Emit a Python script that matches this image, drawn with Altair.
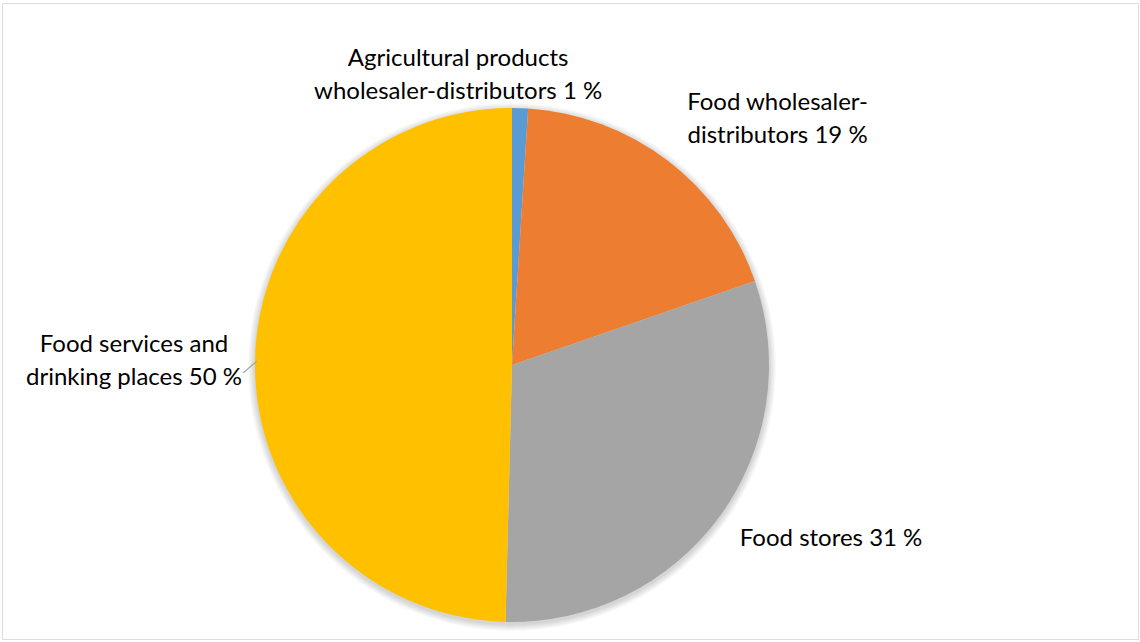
import altair as alt
import pandas as pd

categories = [
    "Agricultural products wholesaler-distributors",
    "Food wholesaler-distributors",
    "Food stores",
    "Food services and drinking places",
]
values = [1.0, 18.7, 30.7, 49.6]
labels = [
    "Agricultural products\nwholesaler-distributors 1 %",
    "Food wholesaler-\ndistributors 19 %",
    "Food stores 31 %",
    "Food services and\ndrinking places 50 %",
]
colors = ["#5B9BD5", "#ED7D31", "#A5A5A5", "#FFC000"]

df = pd.DataFrame({"idx": list(range(len(categories))), "category": categories,
                   "value": values, "label": labels})
total = sum(values)

CX, CY, R = 510, 362, 257

base = alt.Chart(df)

# soft shadow around the pie
shadow_layers = []
for k in range(1, 8):
    shadow_layers.append(
        base.mark_arc(radius=R + k, color="#000000", opacity=0.025).encode(
            theta=alt.Theta("value:Q", stack=True, scale=alt.Scale(domain=[0, total])),
            order=alt.Order("idx:Q"),
            x=alt.value(CX),
            y=alt.value(CY + 2),
        )
    )

pie = base.mark_arc(radius=R).encode(
    theta=alt.Theta("value:Q", stack=True, scale=alt.Scale(domain=[0, total])),
    color=alt.Color("category:N", scale=alt.Scale(domain=categories, range=colors), legend=None),
    order=alt.Order("idx:Q"),
    x=alt.value(CX),
    y=alt.value(CY),
)

offsets = [(-63, -16), (90, -31), (85, 3), (-88, -16)]
text_layers = []
for i, (dx, dy) in enumerate(offsets):
    t = (
        base.transform_stack(stack="value", groupby=[], as_=["v0", "v1"],
                             sort=[alt.SortField("idx", order="ascending")])
        .transform_calculate(mid="(datum.v0 + datum.v1) / 2")
        .transform_filter(alt.datum.idx == i)
        .mark_text(radius=290, dx=dx, dy=dy, font="Lato", fontSize=24, lineBreak="\n",
                   lineHeight=33, align="center", baseline="middle", color="#000000")
        .encode(
            theta=alt.Theta("mid:Q", scale=alt.Scale(domain=[0, total])),
            x=alt.value(CX),
            y=alt.value(CY),
            text="label:N",
        )
    )
    text_layers.append(t)

leader = base.transform_filter(alt.datum.idx == 3).mark_rule(color="#a6a6a6", strokeWidth=1.2).encode(
    x=alt.value(241), y=alt.value(370), x2=alt.value(255), y2=alt.value(358)
)

chart = alt.layer(*shadow_layers, pie, leader, *text_layers).properties(
    width=1136, height=636,
    autosize=alt.AutoSizeParams(type="none"),
    padding={"left": 2, "top": 3, "right": 2, "bottom": 3},
).configure_view(stroke="#d9d9d9", strokeWidth=1.5).configure(background="white")

chart.save("out.html", embed_options={"renderer": "svg", "actions": False})
